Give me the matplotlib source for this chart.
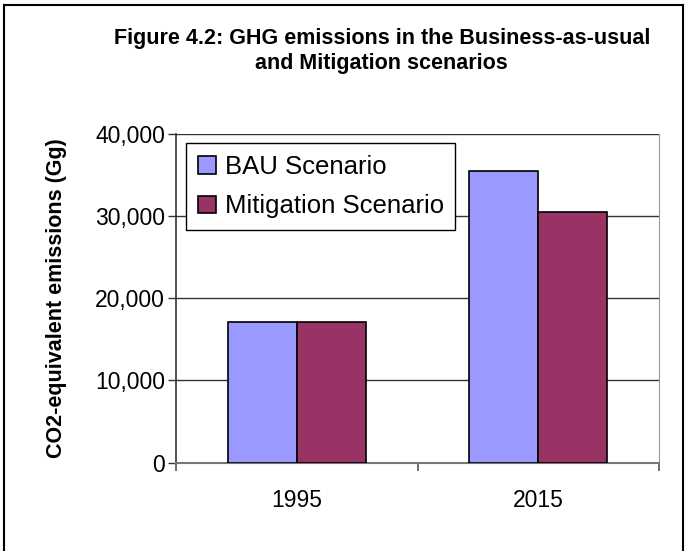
import matplotlib.pyplot as plt
import numpy as np
from matplotlib.lines import Line2D
from matplotlib.ticker import FuncFormatter, FixedLocator

plt.rcParams['font.family'] = ['Liberation Sans', 'DejaVu Sans']

# dados
anos = ['1995', '2015']
bau = [17100, 35500]
mitigacao = [17100, 30500]

COR_BAU = '#9999FF'
COR_MIT = '#993366'

fig = plt.figure(figsize=(6.88, 5.51), dpi=100)
ax = fig.add_axes([176 / 688, 1 - 462.5 / 551, 483 / 688, 328.5 / 551])

x = np.arange(len(anos))
w = 1 / 3.5
ax.bar(x - w / 2, bau, width=w, color=COR_BAU, edgecolor='black', linewidth=1.2,
       label='BAU Scenario', zorder=3)
ax.bar(x + w / 2, mitigacao, width=w, color=COR_MIT, edgecolor='black', linewidth=1.2,
       label='Mitigation Scenario', zorder=3)

ax.set_xlim(-0.5, 1.5)
ax.set_ylim(0, 40000)
ax.set_yticks([0, 10000, 20000, 30000, 40000])
ax.yaxis.set_major_formatter(FuncFormatter(lambda v, p: f'{int(v):,}'))
ax.grid(axis='y', color='#333333', linewidth=1, zorder=0)

ax.set_xticks(x)
ax.set_xticklabels(anos)
ax.xaxis.set_minor_locator(FixedLocator([-0.5, 0.5, 1.5]))
ax.tick_params(axis='x', which='major', length=0, pad=19, labelsize=16.5)
ax.tick_params(axis='x', which='minor', length=6, width=1.2, color='#555555', direction='out')
ax.tick_params(axis='y', length=6, width=1, color='#333333', direction='out', pad=2, labelsize=16.5)

ax.spines['top'].set_visible(False)
ax.spines['left'].set_color('#333333')
ax.spines['bottom'].set_color('#777777')
ax.spines['right'].set_color('#999999')
ax.spines['left'].set_linewidth(1.2)
ax.spines['bottom'].set_linewidth(1.5)

ax.set_ylabel('CO2-equivalent emissions (Gg)', fontsize=15.5, fontweight='bold', labelpad=20)

leg = ax.legend(loc='upper left', bbox_to_anchor=((186 - 176) / 483, (462.5 - 143) / 328.5),
                fontsize=18.5, frameon=True, fancybox=False, framealpha=1,
                edgecolor='black', borderpad=0.45, labelspacing=0.62,
                handlelength=0.7, handleheight=0.7, handletextpad=0.35, borderaxespad=0)
leg.get_frame().set_linewidth(1)

fig.text(0.555, 1 - 28 / 551, 'Figure 4.2: GHG emissions in the Business-as-usual\nand Mitigation scenarios',
         ha='center', va='top', fontsize=15.5, fontweight='bold', linespacing=1.22)

# moldura da figura
fig.add_artist(Line2D([4 / 688, 4 / 688], [0, 1 - 5 / 551], color='black', linewidth=1.5,
                      transform=fig.transFigure))
fig.add_artist(Line2D([4 / 688, 683 / 688], [1 - 5 / 551, 1 - 5 / 551], color='black', linewidth=1.5,
                      transform=fig.transFigure))
fig.add_artist(Line2D([683 / 688, 683 / 688], [0, 1 - 5 / 551], color='black', linewidth=1.5,
                      transform=fig.transFigure))

fig.savefig('out.png', dpi=100)
